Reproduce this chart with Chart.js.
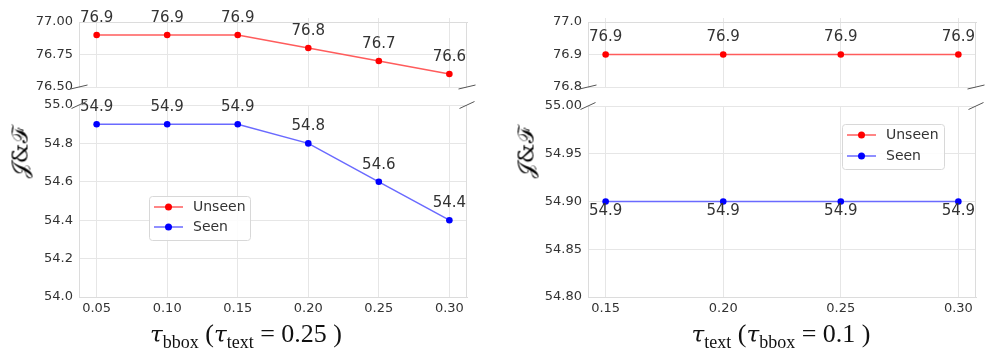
<!DOCTYPE html>
<html>
<head>
<meta charset="utf-8">
<script src="https://cdn.jsdelivr.net/npm/chart.js@4.4.0/dist/chart.umd.min.js"></script>
<style>
  body { margin: 0; background: #fff; }
  #fig { position: relative; width: 995px; height: 358px; overflow: hidden; }
  canvas { position: absolute; }
  .ylab { position: absolute; font-family: "DejaVu Serif"; font-size: 22px; color: #000;
          transform: translate(-50%, -50%) rotate(-90deg); white-space: nowrap; }
  .xlab { position: absolute; font-family: "Liberation Serif"; font-size: 26px; color: #111;
          transform: translateX(-50%); white-space: nowrap; line-height: 28px; }
  .xlab i { font-family: "DejaVu Serif"; font-size: 23px; }
  .xlab sub { font-size: 18px; }
</style>
</head>
<body>
<div id="fig">
  <canvas id="bboxTop" width="480" height="95" style="left:0;top:0"></canvas>
  <canvas id="bboxBottom" width="480" height="230" style="left:0;top:95px"></canvas>
  <canvas id="textTop" width="500" height="95" style="left:495px;top:0"></canvas>
  <canvas id="textBottom" width="500" height="230" style="left:495px;top:95px"></canvas>
  <div class="ylab" style="left:20px;top:153px">𝒥&amp;ℱ</div>
  <div class="ylab" style="left:526px;top:153px">𝒥&amp;ℱ</div>
  <div class="xlab" style="left:246px;top:320px"><i>τ</i><sub>bbox</sub> (<i>τ</i><sub>text</sub> = 0.25 )</div>
  <div class="xlab" style="left:781px;top:320px"><i>τ</i><sub>text</sub> (<i>τ</i><sub>bbox</sub> = 0.1 )</div>
</div>
<script>
// tau_bbox sweep (tau_text = 0.25)
const bboxThresholds = [0.05, 0.10, 0.15, 0.20, 0.25, 0.30];
const bboxUnseen = [76.9, 76.9, 76.9, 76.8, 76.7, 76.6];
const bboxSeen = [54.9, 54.9, 54.9, 54.8, 54.6, 54.4];
const bboxUnseenTicks = [76.50, 76.75, 77.00];
const bboxSeenTicks = [54.0, 54.2, 54.4, 54.6, 54.8, 55.0];

// tau_text sweep (tau_bbox = 0.1)
const textThresholds = [0.15, 0.20, 0.25, 0.30];
const textUnseen = [76.9, 76.9, 76.9, 76.9];
const textSeen = [54.9, 54.9, 54.9, 54.9];
const textUnseenTicks = [76.8, 76.9, 77.0];
const textSeenTicks = [54.80, 54.85, 54.90, 54.95, 55.00];

const seriesNames = ['Unseen', 'Seen'];
const lineColors = ['#ff5c5c', '#6a6aff'];
const pointColors = ['#ff0000', '#0000ff'];

const GRID = '#e6e6e6';
const FRAME = '#dcdcdc';
const TEXT = '#333333';

// value printed next to every point
const valueLabels = {
  id: 'valueLabels',
  afterDatasetsDraw(chart, args, opts) {
    const ctx = chart.ctx;
    ctx.save();
    ctx.font = '15px "DejaVu Sans"';
    ctx.fillStyle = TEXT;
    ctx.textAlign = 'center';
    ctx.textBaseline = 'middle';
    chart.data.datasets.forEach((ds, i) => {
      chart.getDatasetMeta(i).data.forEach((pt, j) => {
        ctx.fillText(ds.data[j].y.toFixed(1), pt.x, pt.y + opts.offset);
      });
    });
    ctx.restore();
  }
};

// right edge of the frame + the little diagonal break marks
const brokenAxis = {
  id: 'brokenAxis',
  beforeDatasetsDraw(chart) {
    const {right, top, bottom} = chart.chartArea;
    const ctx = chart.ctx;
    ctx.save();
    ctx.strokeStyle = FRAME;
    ctx.lineWidth = 1;
    ctx.beginPath();
    ctx.moveTo(Math.round(right) - 0.5, top);
    ctx.lineTo(Math.round(right) - 0.5, bottom);
    ctx.stroke();
    ctx.restore();
  },
  afterDraw(chart, args, opts) {
    const {left, right, top, bottom} = chart.chartArea;
    const ctx = chart.ctx;
    const y = opts.edge === 'top' ? top : bottom;
    const dx = opts.edge === 'top' ? 7.5 : 8.5;
    const dy = opts.edge === 'top' ? 3.5 : 2;
    ctx.save();
    ctx.strokeStyle = '#555';
    ctx.lineWidth = 1;
    [left, right].forEach(x => {
      ctx.beginPath();
      ctx.moveTo(x - dx, y + dy);
      ctx.lineTo(x + dx, y - dy);
      ctx.stroke();
    });
    ctx.restore();
  }
};

// matplotlib style legend: line with a marker in the middle
const lineLegend = {
  id: 'lineLegend',
  afterDraw(chart, args, opts) {
    if (!opts.items) return;
    const ctx = chart.ctx;
    const x0 = chart.chartArea.left + opts.x;
    const y0 = chart.chartArea.top + opts.y;
    ctx.save();
    ctx.fillStyle = 'rgba(255,255,255,0.85)';
    ctx.strokeStyle = '#d8d8d8';
    ctx.lineWidth = 1;
    ctx.beginPath();
    ctx.roundRect(x0 + 0.5, y0 + 0.5, opts.width, opts.height, 3);
    ctx.fill();
    ctx.stroke();
    ctx.font = '14px "DejaVu Sans"';
    ctx.textBaseline = 'middle';
    opts.items.forEach((it, i) => {
      const cy = y0 + 11 + i * opts.gap;
      ctx.strokeStyle = it.line;
      ctx.lineWidth = 1.5;
      ctx.beginPath();
      ctx.moveTo(x0 + 5, cy);
      ctx.lineTo(x0 + 34, cy);
      ctx.stroke();
      ctx.fillStyle = it.point;
      ctx.beginPath();
      ctx.arc(x0 + 19.5, cy, 3.5, 0, Math.PI * 2);
      ctx.fill();
      ctx.fillStyle = TEXT;
      ctx.fillText(it.label, x0 + 44, cy);
    });
    ctx.restore();
  }
};

const legendItems = seriesNames.map((n, i) => ({label: n, line: lineColors[i], point: pointColors[i]}));

function makeChart(id, cfg) {
  const xs = cfg.xs;
  const xr = xs[xs.length - 1] - xs[0];
  const k = seriesNames.indexOf(cfg.name);
  return new Chart(document.getElementById(id), {
    type: 'line',
    data: {
      datasets: [{
        label: cfg.name,
        data: xs.map((x, i) => ({x: x, y: cfg.ys[i]})),
        borderColor: lineColors[k],
        borderWidth: 1.5,
        pointRadius: 3.3,
        pointBackgroundColor: pointColors[k],
        pointBorderWidth: 0,
        tension: 0
      }]
    },
    options: {
      responsive: false,
      animation: false,
      events: [],
      devicePixelRatio: 1,
      layout: { padding: cfg.padding },
      scales: {
        x: {
          type: 'linear',
          position: cfg.top ? 'top' : 'bottom',
          min: xs[0] - 0.05 * xr,
          max: xs[xs.length - 1] + 0.05 * xr,
          afterBuildTicks: s => { s.ticks = xs.map(v => ({value: v})); },
          afterFit: s => { s.height = cfg.xHeight; s.paddingLeft = 0; s.paddingRight = 0; },
          grid: { color: GRID, drawTicks: cfg.top, tickLength: 4 },
          border: { color: FRAME },
          ticks: {
            display: !cfg.top, padding: 4, color: TEXT,
            font: { family: 'DejaVu Sans', size: 13 },
            callback: v => v.toFixed(2)
          }
        },
        y: {
          min: cfg.yTicks[0],
          max: cfg.yTicks[cfg.yTicks.length - 1],
          afterBuildTicks: s => { s.ticks = cfg.yTicks.map(v => ({value: v})); },
          afterFit: s => { s.width = cfg.yWidth; s.paddingTop = 0; s.paddingBottom = 0; },
          grid: { color: GRID, drawTicks: false },
          border: { color: FRAME },
          ticks: {
            padding: 6, color: TEXT,
            font: { family: 'DejaVu Sans', size: 13 },
            callback: v => v.toFixed(cfg.yDigits)
          }
        }
      },
      plugins: {
        legend: { display: false },
        tooltip: { enabled: false },
        valueLabels: { offset: cfg.labelOffset },
        brokenAxis: { edge: cfg.top ? 'bottom' : 'top' },
        lineLegend: cfg.legend || {}
      }
    },
    plugins: [valueLabels, brokenAxis, lineLegend]
  });
}

makeChart('bboxTop', {
  name: 'Unseen', xs: bboxThresholds, ys: bboxUnseen, yTicks: bboxUnseenTicks, yDigits: 2,
  top: true, xHeight: 0, yWidth: 79, padding: {left: 0, top: 22, right: 13, bottom: 8},
  labelOffset: -17
});
makeChart('bboxBottom', {
  name: 'Seen', xs: bboxThresholds, ys: bboxSeen, yTicks: bboxSeenTicks, yDigits: 1,
  top: false, xHeight: 28, yWidth: 79, padding: {left: 0, top: 10, right: 13, bottom: 0},
  labelOffset: -17,
  legend: { items: legendItems, x: 70, y: 91, width: 101, height: 44, gap: 20 }
});
makeChart('textTop', {
  name: 'Unseen', xs: textThresholds, ys: textUnseen, yTicks: textUnseenTicks, yDigits: 1,
  top: true, xHeight: 0, yWidth: 93, padding: {left: 0, top: 22, right: 19, bottom: 8},
  labelOffset: -17
});
makeChart('textBottom', {
  name: 'Seen', xs: textThresholds, ys: textSeen, yTicks: textSeenTicks, yDigits: 2,
  top: false, xHeight: 28, yWidth: 93, padding: {left: 0, top: 11, right: 19, bottom: 0},
  labelOffset: 10,
  legend: { items: legendItems, x: 254, y: 18, width: 102, height: 45, gap: 21 }
});
</script>
</body>
</html>
